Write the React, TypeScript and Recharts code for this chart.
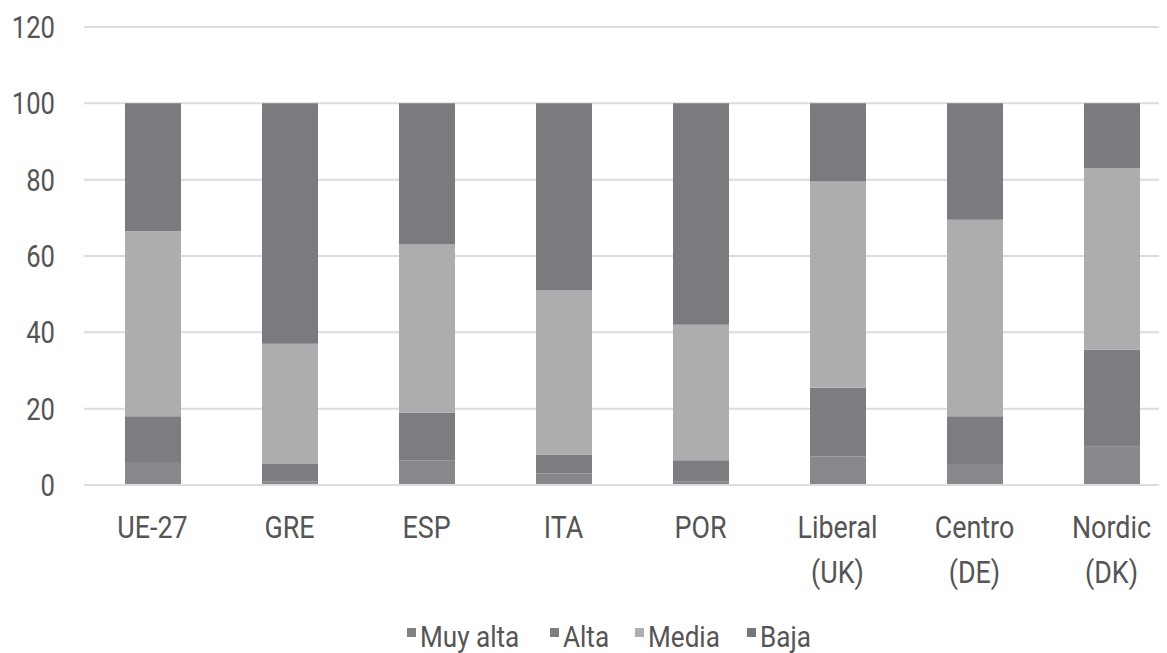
import React from "react";
import { BarChart, Bar, XAxis, YAxis, CartesianGrid, Legend } from "recharts";

const categories = ["UE-27", "GRE", "ESP", "ITA", "POR", "Liberal\n(UK)", "Centro\n(DE)", "Nordic\n(DK)"];
const muyAlta = [6, 1, 6.5, 3, 1, 7.5, 5.5, 10];
const alta = [12, 4.5, 12.5, 5, 5.5, 18, 12.5, 25.5];
const media = [48.5, 31.5, 44, 43, 35.5, 54, 51.5, 47.5];
const baja = [33.5, 63, 37, 49, 58, 20.5, 30.5, 17];
const yTicks = [0, 20, 40, 60, 80, 100, 120];

const seriesNames = ["Muy alta", "Alta", "Media", "Baja"];
const seriesColors = ["#87888b", "#7c7d81", "#acadaf", "#7a7b7f"];
const legendColors = ["#808184", "#7d7e81", "#adaeb0", "#76777b"];

const data = categories.map((c, i) => ({
  name: c,
  muyAlta: muyAlta[i],
  alta: alta[i],
  media: media[i],
  baja: baja[i],
}));

const FONT = "Roboto, 'DejaVu Sans Condensed', sans-serif";
const TEXT = "#555555";

const XTick = (props: any) => {
  const { x, y, payload } = props;
  const lines = String(payload.value).split("\n");
  return (
    <g>
      {lines.map((l, i) => (
        <text
          key={i}
          transform={`translate(${x},${y + 53 + i * 45}) scale(0.84,1)`}
          textAnchor="middle"
          fill={TEXT}
          fontFamily={FONT}
          fontSize={32}
        >
          {l}
        </text>
      ))}
    </g>
  );
};

const YTick = (props: any) => {
  const { y, payload } = props;
  return (
    <text
      transform={`translate(47,${y + 11}) scale(0.8,1)`}
      textAnchor="end"
      fill={TEXT}
      fontFamily={FONT}
      fontSize={32}
    >
      {payload.value}
    </text>
  );
};

const LegendContent = () => (
  <div style={{ height: 33, display: "flex", justifyContent: "center", alignItems: "center", fontFamily: FONT, paddingLeft: 30 }}>
    {seriesNames.map((n, i) => (
      <div key={n} style={{ display: "flex", alignItems: "flex-start", marginRight: i < 3 ? 26 : 0 }}>
        <div style={{ width: 9, height: 9, background: legendColors[i], marginTop: 7, marginRight: 4 }} />
        <span style={{ fontSize: 29, color: TEXT, lineHeight: "32px", display: "inline-block", transform: "scaleX(0.9)", transformOrigin: "left center", marginRight: -6 }}>{n}</span>
      </div>
    ))}
  </div>
);

export default function App() {
  return (
    <div style={{ width: 1159, height: 645, overflow: "hidden", background: "#fff" }}>
      <BarChart width={1180} height={645} data={data} margin={{ top: 19, right: 8, left: 0, bottom: 0 }} barSize={56}>
        <CartesianGrid horizontal vertical={false} stroke="#dcdcdc" strokeWidth={2} />
        <XAxis dataKey="name" height={135} tickLine={false} axisLine={{ stroke: "#dcdcdc", strokeWidth: 2 }} tickSize={0} tickMargin={0} tick={<XTick />} interval={0} />
        <YAxis width={76} domain={[0, 120]} ticks={yTicks} axisLine={false} tickLine={false} tick={<YTick />} />
        <Legend verticalAlign="bottom" content={<LegendContent />} />
        <Bar dataKey="muyAlta" name={seriesNames[0]} stackId="a" fill={seriesColors[0]} isAnimationActive={false} />
        <Bar dataKey="alta" name={seriesNames[1]} stackId="a" fill={seriesColors[1]} isAnimationActive={false} />
        <Bar dataKey="media" name={seriesNames[2]} stackId="a" fill={seriesColors[2]} isAnimationActive={false} />
        <Bar dataKey="baja" name={seriesNames[3]} stackId="a" fill={seriesColors[3]} isAnimationActive={false} />
      </BarChart>
    </div>
  );
}
